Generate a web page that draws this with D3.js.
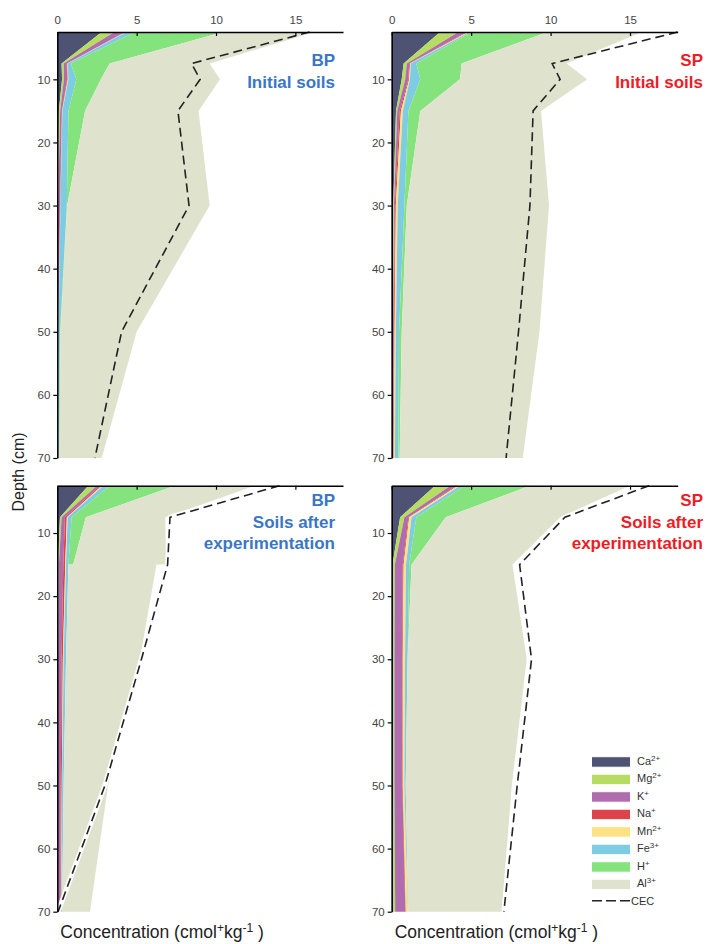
<!DOCTYPE html>
<html><head><meta charset="utf-8">
<script src="https://cdn.jsdelivr.net/npm/d3@7"></script>
<style>
body{margin:0;background:#fff}
svg{display:block}
text{font-family:"Liberation Sans",Arial,Helvetica,sans-serif}
</style>
</head><body>
<svg id="chart" width="706" height="944"></svg>
<script>
// ---------- DATA ----------
const ions = ["Ca","Mg","K","Na","Mn","Fe","H","Al"];
const ionLabels = [["Ca","2+"],["Mg","2+"],["K","+"],["Na","+"],["Mn","2+"],["Fe","3+"],["H","+"],["Al","3+"]];
const ionColors = ["#4e5374","#b6dc62","#b06cae","#dd434a","#fbe283","#7ecbe4","#85e37d","#dfe3cd"];
const xTickValues = [0,5,10,15];
const yTickValues = [10,20,30,40,50,60,70];

// BP initial soils
const depthsBPInitial = [2.5,7.5,10,15,30,50,70];
const bpInitial = {
  Ca:[2.8,0.27,0.3,0.1,0.02,0.01,0.01],
  Mg:[0.8,0.13,0.12,0.08,0.03,0.01,0.01],
  K:[0.65,0.2,0.2,0.1,0.12,0.04,0.02],
  Na:[0.05,0.03,0.04,0.02,0.02,0.01,0.01],
  Mn:[0.05,0.03,0.04,0.02,0.01,0.01,0.01],
  Fe:[0.55,0.19,0.5,0.38,0.4,0.09,0.06],
  H:[5.55,2.45,1.55,1.05,0.02,0.03,0.02],
  Al:[5.75,6.3,7.5,7.15,8.98,4.8,2.66]
};
const cecBPInitial = [15.9,8.45,9.0,7.6,8.3,4.05,2.37];

// SP initial soils
const depthsSPInitial = [2.5,7.5,10,15,30,50,70];
const spInitial = {
  Ca:[3.05,0.75,0.63,0.27,0.1,0.05,0.03],
  Mg:[1.15,0.2,0.22,0.08,0.04,0.03,0.02],
  K:[0.5,0.15,0.2,0.15,0.06,0.06,0.05],
  Na:[0.1,0.05,0.05,0.08,0.06,0.04,0.03],
  Mn:[0.1,0.05,0.05,0.12,0.12,0.08,0.07],
  Fe:[0.1,0.35,0.65,0.35,0.42,0.2,0.22],
  H:[4.8,2.85,2.5,0.75,0.15,0.17,0.08],
  Al:[5.95,6.6,8.0,7.6,8.95,8.67,7.75]
};
const cecSPInitial = [18.0,10.1,10.6,8.9,8.7,7.98,7.2];

// BP soils after experimentation
const depthsBPAfter = [2.5,7.5,15,15,30,50,70];
const bpAfter = {
  Ca:[1.95,0.17,0.04,0.04,0.02,0.01,0.01],
  Mg:[0.55,0.1,0.06,0.06,0.03,0.02,0.01],
  K:[0.2,0.21,0.28,0.28,0.22,0.19,0.16],
  Na:[0.1,0.12,0.12,0.12,0.08,0.06,0.04],
  Mn:[0.1,0.05,0.05,0.05,0.05,0.02,0.02],
  Fe:[0.4,0.25,0.15,0.15,0.15,0.1,0.06],
  H:[4.1,0.9,0.3,0,0,0,0],
  Al:[5.05,5.0,5.85,5.55,4.65,2.8,1.76]
};
const cecBPAfter = [14.0,7.1,6.95,6.95,5.3,3.0,0.05];

// SP soils after experimentation
const depthsSPAfter = [2.5,7.5,15,30,50,70];
const spAfter = {
  Ca:[2.73,0.53,0.05,0.03,0.02,0.02],
  Mg:[0.97,0.27,0.15,0.14,0.15,0.2],
  K:[0.35,0.25,0.5,0.5,0.5,0.64],
  Na:[0.1,0.05,0.05,0.03,0.03,0.03],
  Mn:[0.15,0.15,0.15,0.14,0.1,0.13],
  Fe:[0.3,0.3,0.2,0.16,0.08,0.02],
  H:[4.1,1.85,0.15,0,0,0],
  Al:[6.3,7.2,6.35,7.5,6.68,5.88]
};
const cecSPAfter = [16.2,10.9,8.05,8.8,7.9,7.06];

// ---------- LAYOUT ----------
const svg = d3.select("#chart");
const blue = "#3a76c6", red = "#ee1c25";
const panels = [
  {depths:depthsBPInitial, vals:bpInitial, cec:cecBPInitial, xr:[57.3,343], yr:[32,458], title:["BP","Initial soils"], color:blue, xLabels:true, halo:false},
  {depths:depthsSPInitial, vals:spInitial, cec:cecSPInitial, xr:[391.7,677.7], yr:[32,458], title:["SP","Initial soils"], color:red, xLabels:true, halo:false},
  {depths:depthsBPAfter, vals:bpAfter, cec:cecBPAfter, xr:[57.3,343], yr:[485.7,911.7], title:["BP","Soils after","experimentation"], color:blue, xLabels:false, halo:true},
  {depths:depthsSPAfter, vals:spAfter, cec:cecSPAfter, xr:[391.7,677.7], yr:[485.7,911.7], title:["SP","Soils after","experimentation"], color:red, xLabels:false, halo:true}
];

panels.forEach(p => {
  const x = d3.scaleLinear().domain([0,18]).range(p.xr);
  const y = d3.scaleLinear().domain([2.5,70]).range(p.yr);
  const rows = p.depths.map((d,i) => {
    const r = {depth:d};
    ions.forEach(k => r[k] = p.vals[k][i]);
    return r;
  });
  const series = d3.stack().keys(ions)(rows);
  const g = svg.append("g");
  const area = d3.area()
    .y(d => y(d.data.depth))
    .x0(d => x(d[0]))
    .x1(d => x(d[1]));
  g.selectAll("path.layer").data(series).enter().append("path")
    .attr("class","layer")
    .attr("d", area)
    .attr("fill", (d,i) => ionColors[i]);

  const line = d3.line().x(d => x(d.v)).y(d => y(d.depth));
  const cecPts = p.depths.map((d,i) => ({depth:d, v:p.cec[i]}));
  if (p.halo) {
    g.append("path").attr("d", line(cecPts)).attr("fill","none")
      .attr("stroke","#fff").attr("stroke-width",5).attr("stroke-linejoin","round");
  }
  g.append("path").attr("d", line(cecPts)).attr("fill","none")
    .attr("stroke","#222").attr("stroke-width",1.6).attr("stroke-dasharray","9,5");

  // top axis
  const xAxis = d3.axisTop(x).tickValues(xTickValues).tickSize(-4).tickSizeOuter(0)
    .tickFormat(p.xLabels ? d3.format("d") : () => "");
  const gx = svg.append("g").attr("transform", `translate(0,${p.yr[0]})`).call(xAxis);
  gx.select(".domain").attr("stroke","#000").attr("stroke-width",1.5);
  gx.selectAll(".tick line").attr("stroke","#000").attr("stroke-width",1.2);
  gx.selectAll(".tick text").attr("font-size",11.5).attr("fill","#444")
    .attr("font-family","Liberation Sans, Arial, sans-serif").attr("dy","-5");

  // left axis
  const yAxis = d3.axisLeft(y).tickValues(yTickValues).tickSize(4).tickSizeOuter(0);
  const gy = svg.append("g").attr("transform", `translate(${p.xr[0]},0)`).call(yAxis);
  gy.select(".domain").attr("stroke","#000").attr("stroke-width",1.5);
  gy.selectAll(".tick line").attr("stroke","#000").attr("stroke-width",1.2);
  gy.selectAll(".tick text").attr("font-size",11.5).attr("fill","#444")
    .attr("font-family","Liberation Sans, Arial, sans-serif");

  // titles
  const baseY = p.yr[0] + (p.title.length === 2 ? 34 : 20.5);
  p.title.forEach((t,i) => {
    svg.append("text").attr("x", p.xr[0] > 300 ? 703 : 335).attr("y", baseY + i*21.5)
      .attr("text-anchor","end").attr("font-size",17).attr("font-weight","bold")
      .attr("fill", p.color).text(t);
  });

  // x axis label (bottom panels only)
  if (p.yr[0] > 400) {
    const lab = svg.append("text").attr("x", p.xr[0] + 3).attr("y", 938)
      .attr("font-size",17.5).attr("fill","#222");
    lab.append("tspan").text("Concentration (cmol");
    lab.append("tspan").attr("dy",-6).attr("font-size",12).text("+");
    lab.append("tspan").attr("dy",6).text("kg");
    lab.append("tspan").attr("dy",-6).attr("font-size",12).text("-1");
    lab.append("tspan").attr("dy",6).text(" )");
  }
});

// y axis title
svg.append("text").attr("transform","translate(24,472) rotate(-90)")
  .attr("text-anchor","middle").attr("font-size",16).attr("fill","#222").text("Depth (cm)");

// ---------- LEGEND ----------
const leg = svg.append("g");
const legY = d3.scaleLinear().domain([0,8]).range([756.7, 896.7]);
ions.forEach((k,i) => {
  const y0 = legY(i);
  leg.append("rect").attr("x",591.5).attr("y",y0).attr("width",39).attr("height",10.5)
    .attr("fill",ionColors[i]).attr("stroke","#fff").attr("stroke-width",1);
  const t = leg.append("text").attr("x",637).attr("y",y0+8).attr("font-size",11).attr("fill","#333");
  t.append("tspan").text(ionLabels[i][0]);
  t.append("tspan").attr("dy",-4).attr("font-size",8).text(ionLabels[i][1]);
});
leg.append("line").attr("x1",592).attr("x2",631).attr("y1",900.7).attr("y2",900.7)
  .attr("stroke","#222").attr("stroke-width",1.6).attr("stroke-dasharray","10,4");
leg.append("text").attr("x",631).attr("y",904.5).attr("font-size",11).attr("fill","#333").text("CEC");
</script>
</body></html>
